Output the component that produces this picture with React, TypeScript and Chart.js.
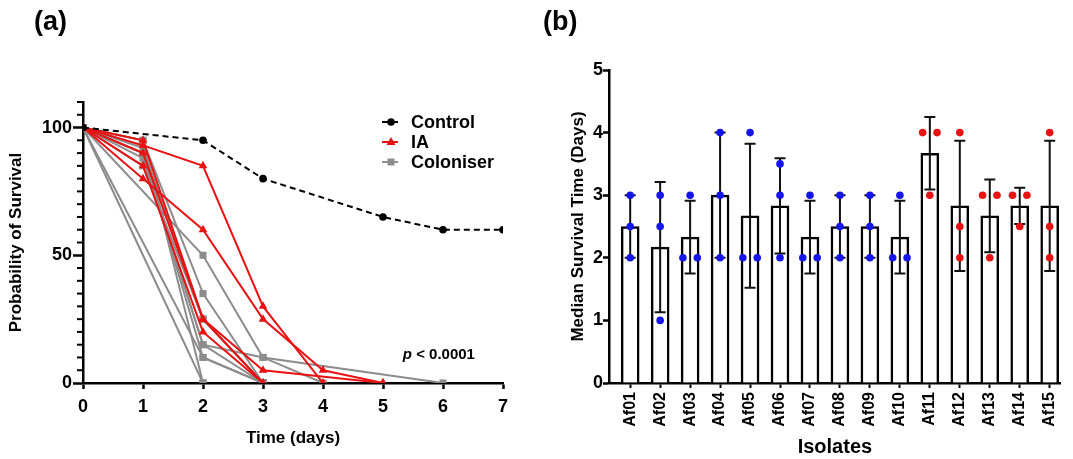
import React, { useEffect, useRef } from 'react';
import { Chart, registerables } from 'chart.js';

Chart.register(...registerables);

const FONT = '"Liberation Sans", Arial, Helvetica, sans-serif';
Chart.defaults.font.family = FONT;
Chart.defaults.color = '#000';

const RED = 'rgb(232,18,18)';
const GREY = 'rgb(140,140,140)';
const BLUE = 'rgb(20,20,235)';

// ---------- Panel (a): survival curves ----------
const dayTicks = [0, 1, 2, 3, 4, 5, 6, 7];
const survivalMajorTicks = [0, 50, 100];
const survivalMinorTicks = [5, 10, 15, 20, 25, 30, 35, 40, 45, 55, 60, 65, 70, 75, 80, 85, 90, 95, 105, 110];

const controlDays = [0, 2, 3, 5, 6, 7];
const controlSurvival = [100, 95, 80, 65, 60, 60];

const iaDays = [
  [0, 1, 2, 3, 4],
  [0, 1, 2, 3, 4, 5],
  [0, 1, 2, 3, 5],
  [0, 1, 2, 3],
  [0, 1, 2, 3],
];
const iaSurvival = [
  [100, 93, 85, 30, 0],
  [100, 80, 60, 25, 5, 0],
  [100, 90, 25, 5, 0],
  [100, 85, 20, 0],
  [100, 95, 25, 0],
];

const colDays = [
  [0, 2, 3, 6],
  [0, 1, 2, 3],
  [0, 1, 2, 3, 4],
  [0, 1, 2, 3],
  [0, 1, 2, 3],
  [0, 2],
  [0, 1, 2],
  [0, 2, 3],
  [0, 1, 2, 3],
  [0, 1, 2, 3],
];
const colSurvival = [
  [100, 50, 10, 0],
  [100, 95, 35, 0],
  [100, 90, 15, 10, 0],
  [100, 85, 25, 0],
  [100, 90, 10, 0],
  [100, 0],
  [100, 95, 0],
  [100, 10, 0],
  [100, 88, 15, 0],
  [100, 92, 25, 0],
];

const legendLabels = ['Control', 'IA', 'Coloniser'];
const pValueText = '< 0.0001';

// ---------- Panel (b): median survival per isolate ----------
const isolates = ['Af01', 'Af02', 'Af03', 'Af04', 'Af05', 'Af06', 'Af07', 'Af08', 'Af09', 'Af10', 'Af11', 'Af12', 'Af13', 'Af14', 'Af15'];
const isolateGroup = ['C', 'C', 'C', 'C', 'C', 'C', 'C', 'C', 'C', 'C', 'IA', 'IA', 'IA', 'IA', 'IA'];
const meanSurvival = [2.5, 2.17, 2.33, 3.0, 2.67, 2.83, 2.33, 2.5, 2.5, 2.33, 3.67, 2.83, 2.67, 2.83, 2.83];
const sdSurvival = [0.5, 1.04, 0.58, 1.0, 1.15, 0.76, 0.58, 0.5, 0.5, 0.58, 0.58, 1.04, 0.58, 0.29, 1.04];
const replicates = [
  [2, 2.5, 3], [1, 2.5, 3], [2, 2, 3], [2, 3, 4], [2, 2, 4],
  [2, 3, 3.5], [2, 2, 3], [2, 2.5, 3], [2, 2.5, 3], [2, 2, 3],
  [3, 4, 4], [2, 2.5, 4], [2, 3, 3], [2.5, 3, 3], [2, 2.5, 4],
];
const medianTicks = [0, 1, 2, 3, 4, 5];

const boldFont = (size: number) => ({ family: FONT, size, weight: 'bold' as const });

function SurvivalChart() {
  const ref = useRef<HTMLCanvasElement>(null);
  useEffect(() => {
    const mk = (days: number[], vals: number[]) => days.map((d, i) => ({ x: d, y: vals[i] }));
    const datasets: any[] = [
      {
        label: 'Control',
        data: mk(controlDays, controlSurvival),
        borderColor: '#000',
        backgroundColor: '#000',
        pointBackgroundColor: '#000',
        borderDash: [6, 4],
        borderWidth: 2,
        pointStyle: 'circle',
        pointRadius: 3.8,
        pointBorderWidth: 0,
      },
      ...iaSurvival.map((v, k) => ({
        label: 'IA',
        data: mk(iaDays[k], v),
        borderColor: RED,
        backgroundColor: RED,
        pointBackgroundColor: RED,
        borderWidth: 2,
        pointStyle: 'triangle',
        pointRadius: 5,
        pointBorderWidth: 0,
      })),
      ...colSurvival.map((v, k) => ({
        label: 'Coloniser',
        data: mk(colDays[k], v),
        borderColor: GREY,
        backgroundColor: GREY,
        pointBackgroundColor: GREY,
        borderWidth: 2,
        pointStyle: 'rect',
        pointRadius: 5,
        pointBorderWidth: 0,
      })),
    ];

    const minorTicks = {
      id: 'minorTicks',
      afterDraw(chart: any) {
        const { ctx, chartArea, scales } = chart;
        ctx.save();
        ctx.strokeStyle = '#000';
        ctx.lineWidth = 2;
        survivalMinorTicks.forEach((v) => {
          const y = scales.y.getPixelForValue(v);
          ctx.beginPath();
          ctx.moveTo(chartArea.left - 6, y);
          ctx.lineTo(chartArea.left, y);
          ctx.stroke();
        });
        ctx.restore();
      },
    };

    const legendAndP = {
      id: 'legendAndP',
      afterDraw(chart: any) {
        const { ctx, chartArea, scales } = chart;
        ctx.save();
        const x0 = chartArea.right - 121;
        const y0 = chartArea.top + 20;
        const styles = [
          { color: '#000', dash: [6, 4], shape: 'circle' },
          { color: RED, dash: [], shape: 'triangle' },
          { color: GREY, dash: [], shape: 'rect' },
        ];
        legendLabels.forEach((lab, i) => {
          const y = y0 + i * 20;
          const st = styles[i];
          ctx.strokeStyle = st.color;
          ctx.fillStyle = st.color;
          ctx.lineWidth = 2;
          ctx.setLineDash(st.dash);
          ctx.beginPath();
          ctx.moveTo(x0, y);
          ctx.lineTo(x0 + 16, y);
          ctx.stroke();
          ctx.setLineDash([]);
          const cx = x0 + 9;
          ctx.beginPath();
          if (st.shape === 'circle') {
            ctx.arc(cx, y, 3.8, 0, Math.PI * 2);
          } else if (st.shape === 'triangle') {
            ctx.moveTo(cx, y - 5);
            ctx.lineTo(cx + 4.5, y + 3);
            ctx.lineTo(cx - 4.5, y + 3);
            ctx.closePath();
          } else {
            ctx.rect(cx - 3.5, y - 3.5, 7, 7);
          }
          ctx.fill();
          ctx.fillStyle = '#000';
          ctx.font = `bold 18px ${FONT}`;
          ctx.textBaseline = 'middle';
          ctx.textAlign = 'left';
          ctx.fillText(lab, x0 + 29, y + 1);
        });
        // p value
        const px = scales.x.getPixelForValue(5.33);
        const py = scales.y.getPixelForValue(11);
        ctx.font = `italic bold 15px ${FONT}`;
        ctx.textBaseline = 'middle';
        ctx.textAlign = 'left';
        ctx.fillText('p', px, py);
        const pw = ctx.measureText('p ').width;
        ctx.font = `bold 15px ${FONT}`;
        ctx.fillText(pValueText, px + pw, py);
        ctx.restore();
      },
    };

    const chart = new Chart(ref.current as HTMLCanvasElement, {
      type: 'line',
      data: { datasets },
      options: {
        responsive: false,
        animation: false,
        layout: { padding: { left: 0, top: 102, right: 27, bottom: 0 } },
        elements: { line: { tension: 0 } },
        plugins: { legend: { display: false }, tooltip: { enabled: false } },
        scales: {
          x: {
            type: 'linear',
            min: 0,
            max: 7,
            afterBuildTicks: (s: any) => { s.ticks = dayTicks.map((v) => ({ value: v })); },
            afterFit: (s: any) => { s.height = 76; },
            border: { display: true, color: '#000', width: 2.5 },
            grid: { display: true, drawOnChartArea: false, drawTicks: true, tickLength: 6, tickWidth: 2.5, tickColor: '#000' },
            ticks: { color: '#000', font: boldFont(18), padding: 7, maxRotation: 0 },
            title: { display: true, text: 'Time (days)', color: '#000', font: boldFont(17), padding: { top: 0, bottom: 10 } },
          },
          y: {
            type: 'linear',
            min: 0,
            max: 110,
            afterBuildTicks: (s: any) => { s.ticks = survivalMajorTicks.map((v) => ({ value: v })); },
            afterFit: (s: any) => { s.width = 83; },
            border: { display: true, color: '#000', width: 2.5 },
            grid: { display: true, drawOnChartArea: false, drawTicks: true, tickLength: 10, tickWidth: 2.5, tickColor: '#000' },
            ticks: { color: '#000', font: boldFont(18), padding: 1 },
            title: { display: true, text: 'Probability of Survival', color: '#000', font: boldFont(17), padding: { top: 6, bottom: 0 } },
          },
        },
      } as any,
      plugins: [minorTicks, legendAndP],
    });
    return () => chart.destroy();
  }, []);
  return <canvas ref={ref} width={530} height={459} style={{ position: 'absolute', left: 0, top: 0 }} />;
}

function IsolateChart() {
  const ref = useRef<HTMLCanvasElement>(null);
  useEffect(() => {
    const dots: { x: number; y: number }[] = [];
    const dotColors: string[] = [];
    replicates.forEach((reps, i) => {
      const counts: Record<string, number> = {};
      reps.forEach((v) => { counts[v] = (counts[v] || 0) + 1; });
      const seen: Record<string, number> = {};
      reps.forEach((v) => {
        const n = counts[v];
        const k = seen[v] || 0;
        seen[v] = k + 1;
        const off = n === 1 ? 0 : (k - (n - 1) / 2) * 0.48;
        dots.push({ x: i + off, y: v });
        dotColors.push(isolateGroup[i] === 'IA' ? RED : BLUE);
      });
    });

    const errorBars = {
      id: 'errorBars',
      afterDatasetDraw(chart: any, args: any) {
        if (args.meta.type !== 'bar') return;
        const { ctx, scales } = chart;
        ctx.save();
        ctx.strokeStyle = '#111';
        ctx.lineWidth = 2;
        meanSurvival.forEach((m, i) => {
          const x = scales.x.getPixelForValue(i);
          const yt = scales.y.getPixelForValue(m + sdSurvival[i]);
          const yb = scales.y.getPixelForValue(m - sdSurvival[i]);
          ctx.beginPath();
          ctx.moveTo(x, yb);
          ctx.lineTo(x, yt);
          ctx.moveTo(x - 5.5, yt);
          ctx.lineTo(x + 5.5, yt);
          ctx.moveTo(x - 5.5, yb);
          ctx.lineTo(x + 5.5, yb);
          ctx.stroke();
        });
        ctx.restore();
      },
    };

    const chart = new Chart(ref.current as HTMLCanvasElement, {
      type: 'bar',
      data: {
        datasets: [
          {
            type: 'scatter',
            label: 'Replicates',
            data: dots,
            pointRadius: 3.8,
            pointBorderWidth: 0,
            pointBackgroundColor: dotColors,
            backgroundColor: dotColors,
            showLine: false,
          } as any,
          {
            type: 'bar',
            label: 'Median survival',
            data: meanSurvival.map((m, i) => ({ x: i, y: m })),
            backgroundColor: '#fff',
            borderColor: '#000',
            borderWidth: 2.5,
            barThickness: 18,
            borderSkipped: 'start',
          },
        ],
      },
      options: {
        responsive: false,
        animation: false,
        layout: { padding: { left: 0, top: 70, right: 1, bottom: 0 } },
        plugins: { legend: { display: false }, tooltip: { enabled: false } },
        scales: {
          x: {
            type: 'linear',
            min: -0.707,
            max: 14.37,
            offset: false,
            afterBuildTicks: (s: any) => { s.ticks = isolates.map((_, i) => ({ value: i })); },
            afterFit: (s: any) => { s.height = 76; },
            border: { display: true, color: '#000', width: 2.5 },
            grid: { display: true, offset: false, drawOnChartArea: false, drawTicks: true, tickLength: 5, tickWidth: 2, tickColor: '#000' },
            ticks: {
              autoSkip: false,
              minRotation: 90,
              maxRotation: 90,
              padding: 4,
              color: '#000',
              font: boldFont(16),
              callback: (v: any) => isolates[v] ?? '',
            },
            title: { display: true, text: 'Isolates', color: '#000', font: boldFont(20), padding: { top: 0, bottom: 0 } },
          },
          y: {
            type: 'linear',
            min: 0,
            max: 5,
            afterBuildTicks: (s: any) => { s.ticks = medianTicks.map((v) => ({ value: v })); },
            afterFit: (s: any) => { s.width = 79; },
            border: { display: true, color: '#000', width: 2.5 },
            grid: { display: true, drawOnChartArea: false, drawTicks: true, tickLength: 6, tickWidth: 2.5, tickColor: '#000' },
            ticks: { color: '#000', font: boldFont(18), padding: 0 },
            title: { display: true, text: 'Median Survival Time (Days)', color: '#000', font: boldFont(17), padding: { top: 38, bottom: 0 } },
          },
        },
      } as any,
      plugins: [errorBars],
    });
    return () => chart.destroy();
  }, []);
  return <canvas ref={ref} width={543} height={459} style={{ position: 'absolute', left: 530, top: 0 }} />;
}

export default function App() {
  const label = { position: 'absolute' as const, top: 5, font: `bold 27px ${FONT}`, color: '#000', lineHeight: '32px' };
  return (
    <div style={{ position: 'fixed', left: 0, top: 0, width: 1073, height: 459, background: '#fff', overflow: 'hidden' }}>
      <SurvivalChart />
      <IsolateChart />
      <div style={{ ...label, left: 34 }}>(a)</div>
      <div style={{ ...label, left: 543 }}>(b)</div>
    </div>
  );
}
